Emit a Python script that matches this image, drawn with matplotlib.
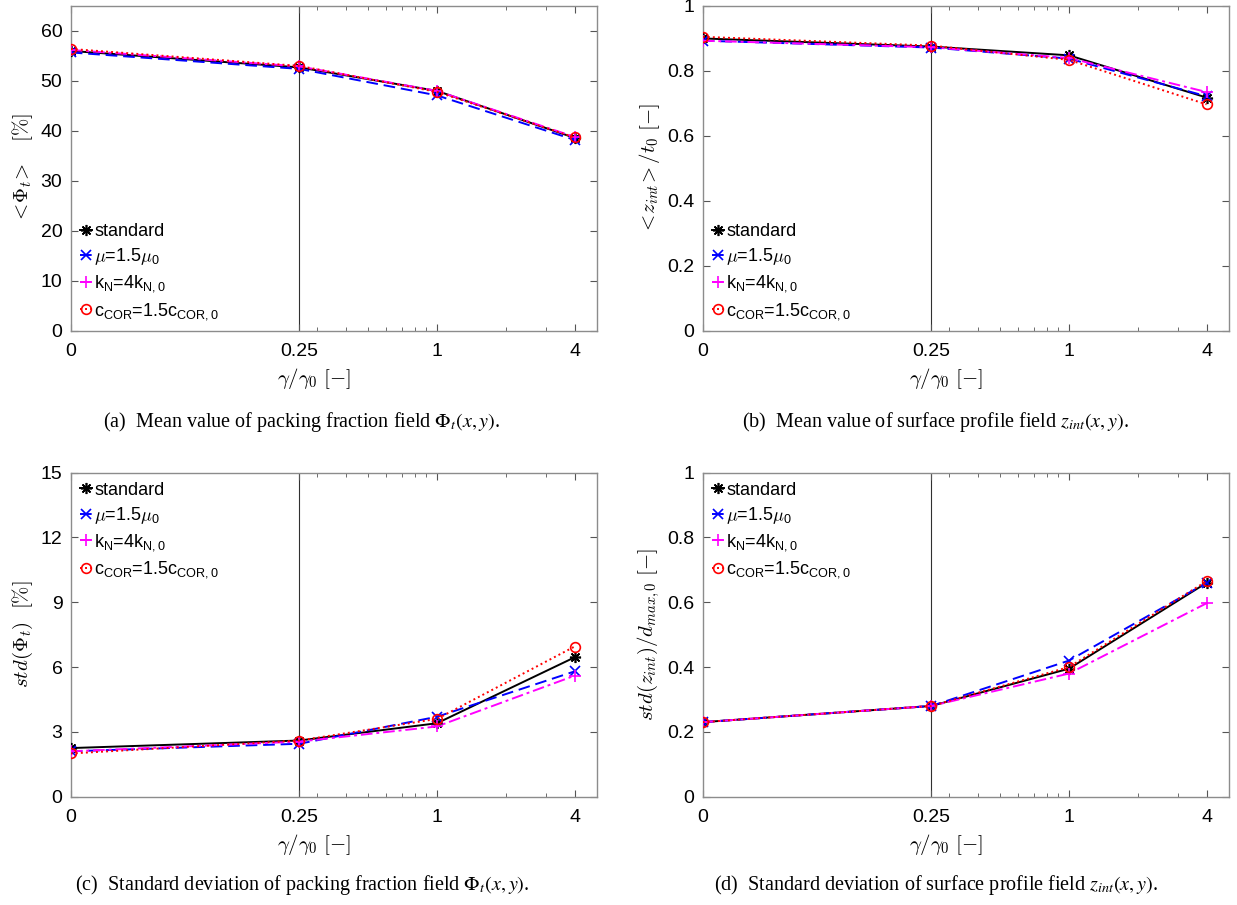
import numpy as np
import matplotlib
matplotlib.use("Agg")
import matplotlib.pyplot as plt

plt.rcParams["font.family"] = ["Liberation Sans", "DejaVu Sans"]
plt.rcParams["mathtext.fontset"] = "cm"

# Damping ratio gamma/gamma0 (0 is drawn at the left end of the log axis)
gamma = np.array([0.0, 0.25, 1.0, 4.0])
gamma_tick_labels = ["0", "0.25", "1", "4"]
X_ZERO = 0.025

series_labels = [
    "standard",
    r"$\mu$=1.5$\mu_\mathregular{0}$",
    r"k$\mathregular{_N}$=4k$\mathregular{_{N,0}}$",
    r"c$\mathregular{_{COR}}$=1.5c$\mathregular{_{COR,0}}$",
]

# (a) mean packing fraction [%]
phi_mean_standard = [56.0, 52.7, 48.0, 38.6]
phi_mean_mu = [55.7, 52.4, 47.1, 38.2]
phi_mean_kn = [56.2, 52.9, 48.0, 38.8]
phi_mean_cor = [56.4, 53.0, 47.8, 38.7]

# (b) mean surface profile <z_int>/t0
z_mean_standard = [0.900, 0.875, 0.848, 0.718]
z_mean_mu = [0.893, 0.872, 0.838, 0.722]
z_mean_kn = [0.893, 0.873, 0.840, 0.735]
z_mean_cor = [0.905, 0.878, 0.834, 0.697]

# (c) std of packing fraction [%]
phi_std_standard = [2.25, 2.60, 3.40, 6.45]
phi_std_mu = [2.10, 2.45, 3.70, 5.80]
phi_std_kn = [2.10, 2.55, 3.25, 5.60]
phi_std_cor = [2.00, 2.60, 3.60, 6.95]

# (d) std of surface profile / d_max,0
z_std_standard = [0.230, 0.280, 0.395, 0.660]
z_std_mu = [0.230, 0.280, 0.420, 0.660]
z_std_kn = [0.230, 0.280, 0.380, 0.597]
z_std_cor = [0.230, 0.280, 0.400, 0.665]

styles = [
    dict(color="black", linestyle="-", marker=(8, 2, 0), markersize=8),
    dict(color="#0000ff", linestyle=(0, (6, 3)), marker="x", markersize=7),
    dict(color="#ff00ff", linestyle=(0, (6, 2, 1.5, 2)), marker="+", markersize=9),
    dict(color="#ff0000", linestyle=(0, (1, 1.6)), marker="o",
         markerfacecolor="none", markersize=7),
]

panels = [
    dict(rect=[0.0572, 0.6346, 0.4252, 0.3588],
         data=[phi_mean_standard, phi_mean_mu, phi_mean_kn, phi_mean_cor],
         ylim=(0, 65), yticks=np.arange(0, 61, 10),
         ylabel=r"$<\!\Phi_t\!>\ \ \ [\%]$", legend="lower left",
         caption=r"(a)  Mean value of packing fraction field $\Phi_t(x, y)$.",
         cap_x=302 / 1237, cap_y=0.520),
    dict(rect=[0.5681, 0.6346, 0.4252, 0.3588],
         data=[z_mean_standard, z_mean_mu, z_mean_kn, z_mean_cor],
         ylim=(0, 1), yticks=np.arange(0, 1.01, 0.2),
         ylabel=r"$<\!z_{int}\!>/t_0\ [-]$", legend="lower left",
         caption=r"(b)  Mean value of surface profile field $z_{int}(x, y)$.",
         cap_x=936 / 1237, cap_y=0.520),
    dict(rect=[0.0572, 0.1197, 0.4252, 0.3580],
         data=[phi_std_standard, phi_std_mu, phi_std_kn, phi_std_cor],
         ylim=(0, 15), yticks=np.arange(0, 16, 3),
         ylabel=r"$std(\Phi_t)\ \ [\%]$", legend="upper left",
         caption=r"(c)  Standard deviation of packing fraction field $\Phi_t(x, y)$.",
         cap_x=302 / 1237, cap_y=0.009),
    dict(rect=[0.5681, 0.1197, 0.4252, 0.3580],
         data=[z_std_standard, z_std_mu, z_std_kn, z_std_cor],
         ylim=(0, 1), yticks=np.arange(0, 1.01, 0.2),
         ylabel=r"$std(z_{int})/d_{max,0}\ [-]$", legend="upper left",
         caption=r"(d)  Standard deviation of surface profile field $z_{int}(x, y)$.",
         cap_x=936 / 1237, cap_y=0.009),
]

fig = plt.figure(figsize=(12.37, 9.05), dpi=100)
x_plot = np.where(gamma == 0, X_ZERO, gamma)
spine_col = "#8c8c8c"

for p in panels:
    ax = fig.add_axes(p["rect"])
    ax.set_xscale("log")
    ax.set_xlim(X_ZERO, 5.0)
    ax.set_ylim(*p["ylim"])
    # separator between the zero point and the logarithmic range
    ax.axvline(0.25, color="#303030", linewidth=0.8, zorder=1)

    for vals, lab, st in zip(p["data"], series_labels, styles):
        ax.plot(x_plot, vals, label=lab, linewidth=1.4,
                markeredgewidth=1.2, zorder=3, **st)

    ax.set_xticks(x_plot)
    ax.set_xticklabels(gamma_tick_labels)
    ax.set_xticks([0.3, 0.4, 0.5, 0.6, 0.7, 0.8, 0.9, 2, 3], minor=True)
    ax.xaxis.set_minor_formatter(matplotlib.ticker.NullFormatter())
    ax.set_yticks(p["yticks"])
    ax.set_yticklabels(["{:g}".format(round(v, 2)) for v in p["yticks"]])
    ax.tick_params(which="both", direction="in", top=True, right=True,
                   labelsize=14, color="#555555")
    ax.tick_params(axis="y", pad=6)
    ax.tick_params(axis="x", pad=9)
    ax.tick_params(which="major", length=5)
    ax.tick_params(which="minor", length=3)
    for s in ax.spines.values():
        s.set_color(spine_col)
        s.set_linewidth(1.0)

    ax.set_xlabel(r"$\gamma/\gamma_0\ [-]$", fontsize=15)
    ax.xaxis.set_label_coords(0.462, -0.11)
    ax.set_ylabel(p["ylabel"], fontsize=15, labelpad=4)

    ax.legend(loc=p["legend"], frameon=False, fontsize=13, handlelength=0.7,
              handletextpad=0.1, labelspacing=0.35, borderaxespad=0.2,
              borderpad=0.3)

    fig.text(p["cap_x"], p["cap_y"], p["caption"], ha="center", va="bottom",
             fontsize=14.5, family=["Liberation Serif", "DejaVu Serif"],
             math_fontfamily="stix")

fig.savefig("out.png", dpi=100)
